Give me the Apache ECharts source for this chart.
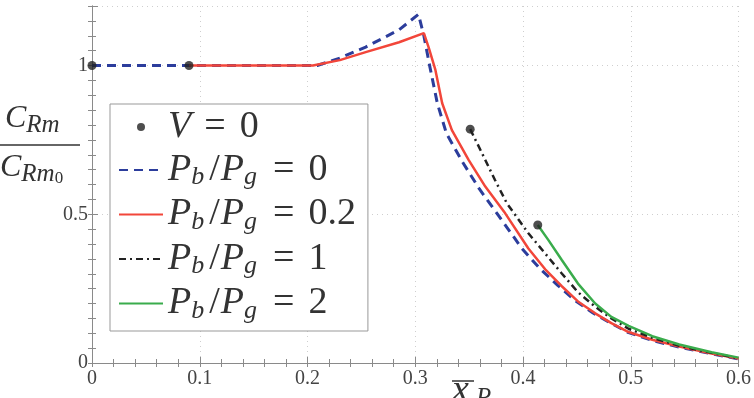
<!DOCTYPE html>
<html>
<head>
<meta charset="utf-8">
<script src="https://cdn.jsdelivr.net/npm/echarts@6/dist/echarts.min.js"></script>
<style>
html,body{margin:0;padding:0;background:#fff;}
#chart{width:754px;height:398px;}
</style>
</head>
<body>
<div id="chart"></div>
<script>
// ---- data ----
const xTickLabels = ['0', '0.1', '0.2', '0.3', '0.4', '0.5', '0.6'];
const yTickLabels = ['0', '0.5', '1'];
const legendNames = ['V=0', 'Pb/Pg=0', 'Pb/Pg=0.2', 'Pb/Pg=1', 'Pb/Pg=2'];

const v0Points = [[0, 1], [0.09, 1], [0.351, 0.786], [0.4137, 0.464]];

const pb0 = [[0, 1], [0.209, 1], [0.23, 1.025], [0.254, 1.062], [0.285, 1.12], [0.303, 1.172],
  [0.308, 1.10], [0.3135, 0.997], [0.3205, 0.873], [0.329, 0.771], [0.344, 0.675], [0.3595, 0.585],
  [0.377, 0.497], [0.399, 0.385], [0.416, 0.316], [0.432, 0.262], [0.448, 0.211], [0.465, 0.168],
  [0.481, 0.135], [0.498, 0.102], [0.52, 0.076], [0.545, 0.053], [0.575, 0.031], [0.6, 0.014]];

const pb02 = [[0.09, 1], [0.205, 1], [0.23, 1.018], [0.254, 1.045], [0.285, 1.078], [0.308, 1.109],
  [0.3125, 1.06], [0.3187, 0.985], [0.325, 0.873], [0.334, 0.783], [0.3495, 0.683], [0.365, 0.593],
  [0.3835, 0.503], [0.405, 0.385], [0.4206, 0.315], [0.436, 0.258], [0.451, 0.207], [0.467, 0.167],
  [0.482, 0.134], [0.498, 0.104], [0.52, 0.078], [0.545, 0.055], [0.575, 0.032], [0.6, 0.015]];

const pb1 = [[0.351, 0.786], [0.362, 0.705], [0.374, 0.615], [0.385, 0.537], [0.405, 0.436],
  [0.4206, 0.368], [0.436, 0.301], [0.451, 0.238], [0.467, 0.189], [0.482, 0.15], [0.498, 0.115],
  [0.52, 0.085], [0.545, 0.058], [0.575, 0.034], [0.6, 0.016]];

const pb2 = [[0.4137, 0.464], [0.4236, 0.413], [0.436, 0.346], [0.451, 0.267], [0.467, 0.2],
  [0.482, 0.155], [0.498, 0.125], [0.52, 0.09], [0.545, 0.062], [0.575, 0.036], [0.6, 0.018]];

// ---- chart ----
const chart = echarts.init(document.getElementById('chart'), null, {renderer: 'canvas'});
const FONT = '"Liberation Serif", "DejaVu Serif", serif';
const axisGray = '#8a8a8a';
const txt = '#333';
const near = (a, b) => Math.abs(a - b) < 1e-6;

function xLabel(v) {
  for (const t of xTickLabels) if (near(v, parseFloat(t))) return t;
  return '';
}
function yLabel(v) {
  for (const t of yTickLabels) if (near(v, parseFloat(t))) return t;
  return '';
}

const rich = {
  it: {fontFamily: FONT, fontStyle: 'italic', fontSize: 38, color: txt, lineHeight: 38},
  rm: {fontFamily: FONT, fontSize: 38, color: txt, lineHeight: 38},
  sl: {fontFamily: FONT, fontSize: 38, color: txt, lineHeight: 38, padding: [0, 1, 0, 2]},
  eq: {fontFamily: FONT, fontSize: 38, color: txt, lineHeight: 38, padding: [0, 14, 0, 13]},
  sub: {fontFamily: FONT, fontStyle: 'italic', fontSize: 26, color: txt, padding: [15, 3, 0, 0]}
};
function legendFmt(name) {
  const val = name.split('=')[1];
  if (name.startsWith('V')) return '{it|V}{eq|=}{rm|' + val + '}';
  return '{it|P}{sub|b}{sl|/}{it|P}{sub|g}{eq|=}{rm|' + val + '}';
}

const baseX = {type: 'value', min: 0, max: 0.6, gridIndex: 0};
const baseY = {type: 'value', min: 0, max: 1.2, gridIndex: 0};
const hidden = {itemStyle: {opacity: 0}};

const option = {
  animation: false,
  backgroundColor: '#fff',
  grid: {left: 92, right: 14, top: 6, bottom: 35},
  xAxis: [
    Object.assign({}, baseX, {
      position: 'bottom', interval: 0.02,
      axisLine: {show: true, lineStyle: {color: axisGray, width: 1}},
      axisTick: {show: true, inside: true, length: 4, lineStyle: {color: axisGray}},
      axisLabel: {show: true, formatter: xLabel, fontFamily: FONT, fontSize: 20, color: '#444', margin: 6, showMinLabel: true, showMaxLabel: true},
      splitLine: {show: false}
    }),
    Object.assign({}, baseX, {
      position: 'top', interval: 0.02,
      axisLine: {show: true, lineStyle: {color: axisGray, width: 1}},
      axisTick: {show: true, inside: true, length: 4, lineStyle: {color: axisGray}},
      axisLabel: {show: false},
      splitLine: {show: false}
    }),
    Object.assign({}, baseX, {
      position: 'bottom', interval: 0.1,
      axisLine: {show: false},
      axisTick: {show: true, inside: true, length: 6, lineStyle: {color: axisGray}},
      axisLabel: {show: false},
      splitLine: {show: true, lineStyle: {color: '#cfcfcf', width: 1, type: [1, 4]}}
    })
  ],
  yAxis: [
    Object.assign({}, baseY, {
      position: 'left', interval: 0.05,
      axisLine: {show: true, lineStyle: {color: axisGray, width: 1}},
      axisTick: {show: true, inside: true, length: 4, lineStyle: {color: axisGray}},
      axisLabel: {show: true, formatter: yLabel, fontFamily: FONT, fontSize: 20, color: '#444', margin: 4, showMaxLabel: false},
      splitLine: {show: false}
    }),
    Object.assign({}, baseY, {
      position: 'right', interval: 0.05,
      axisLine: {show: true, lineStyle: {color: axisGray, width: 1}},
      axisTick: {show: true, inside: true, length: 4, lineStyle: {color: axisGray}},
      axisLabel: {show: false},
      splitLine: {show: false}
    }),
    Object.assign({}, baseY, {
      position: 'left', interval: 0.5,
      axisLine: {show: false},
      axisTick: {show: true, inside: true, length: 6, lineStyle: {color: axisGray}},
      axisLabel: {show: false},
      splitLine: {show: true, lineStyle: {color: '#cfcfcf', width: 1, type: [1, 4]}}
    })
  ],
  legend: {
    orient: 'vertical',
    left: 110, top: 104,
    padding: [4, 12, 7, 8],
    itemGap: 5,
    itemWidth: 44, itemHeight: 8,
    backgroundColor: '#fff',
    borderColor: '#999', borderWidth: 1, borderRadius: 0,
    data: [
      {name: legendNames[0]},
      Object.assign({name: legendNames[1]}, hidden),
      Object.assign({name: legendNames[2]}, hidden),
      Object.assign({name: legendNames[3]}, hidden),
      Object.assign({name: legendNames[4]}, hidden)
    ],
    formatter: legendFmt,
    textStyle: {rich: rich, fontFamily: FONT, fontSize: 38, color: txt}
  },
  series: [
    {
      name: legendNames[1], type: 'line', data: pb0, symbol: 'none', showSymbol: false, z: 2,
      lineStyle: {color: '#2c3d9c', width: 3, type: [9, 6]}, itemStyle: {color: '#2c3d9c'}
    },
    {
      name: legendNames[2], type: 'line', data: pb02, symbol: 'none', showSymbol: false, z: 3,
      lineStyle: {color: '#f2463a', width: 2.5, type: 'solid'}, itemStyle: {color: '#f2463a'}
    },
    {
      name: legendNames[3], type: 'line', data: pb1, symbol: 'none', showSymbol: false, z: 4,
      lineStyle: {color: '#222', width: 2.5, type: [7, 4, 2, 4]}, itemStyle: {color: '#222'}
    },
    {
      name: legendNames[4], type: 'line', data: pb2, symbol: 'none', showSymbol: false, z: 5,
      lineStyle: {color: '#3aac4c', width: 2.5, type: 'solid'}, itemStyle: {color: '#3aac4c'}
    },
    {
      name: legendNames[0], type: 'scatter', data: v0Points, symbol: 'circle', symbolSize: 9, z: 6,
      clip: false, itemStyle: {color: '#222'}
    }
  ],
  graphic: [
    {
      type: 'text', left: 5, top: 103, z: 10,
      style: {
        text: '{C|C}{s|Rm}',
        rich: {
          C: {fontFamily: FONT, fontStyle: 'italic', fontSize: 32, fill: txt, lineHeight: 32},
          s: {fontFamily: FONT, fontStyle: 'italic', fontSize: 25, fill: txt, padding: [12, 0, 0, 0]}
        }
      }
    },
    {
      type: 'line', z: 10,
      shape: {x1: 0, y1: 145, x2: 80, y2: 145},
      style: {stroke: txt, lineWidth: 1.5}
    },
    {
      type: 'text', left: 0, top: 152, z: 10,
      style: {
        text: '{C|C}{s|Rm}{ss|0}',
        rich: {
          C: {fontFamily: FONT, fontStyle: 'italic', fontSize: 32, fill: txt, lineHeight: 32},
          s: {fontFamily: FONT, fontStyle: 'italic', fontSize: 25, fill: txt, padding: [12, 0, 0, 0]},
          ss: {fontFamily: FONT, fontSize: 17, fill: txt, padding: [22, 0, 0, 0]}
        }
      }
    },
    {
      type: 'text', z: 10, x: 452, y: 391,
      style: {text: 'x', fontFamily: FONT, fontStyle: 'italic', fontSize: 38, fill: txt, verticalAlign: 'middle', align: 'left'}
    },
    {
      type: 'line', z: 10,
      shape: {x1: 452, y1: 381, x2: 474, y2: 381},
      style: {stroke: txt, lineWidth: 1.5}
    },
    {
      type: 'text', z: 10, x: 476, y: 398,
      style: {text: 'R', fontFamily: FONT, fontStyle: 'italic', fontSize: 25, fill: txt, verticalAlign: 'middle', align: 'left'}
    }
  ]
};
chart.setOption(option);
</script>
</body>
</html>
